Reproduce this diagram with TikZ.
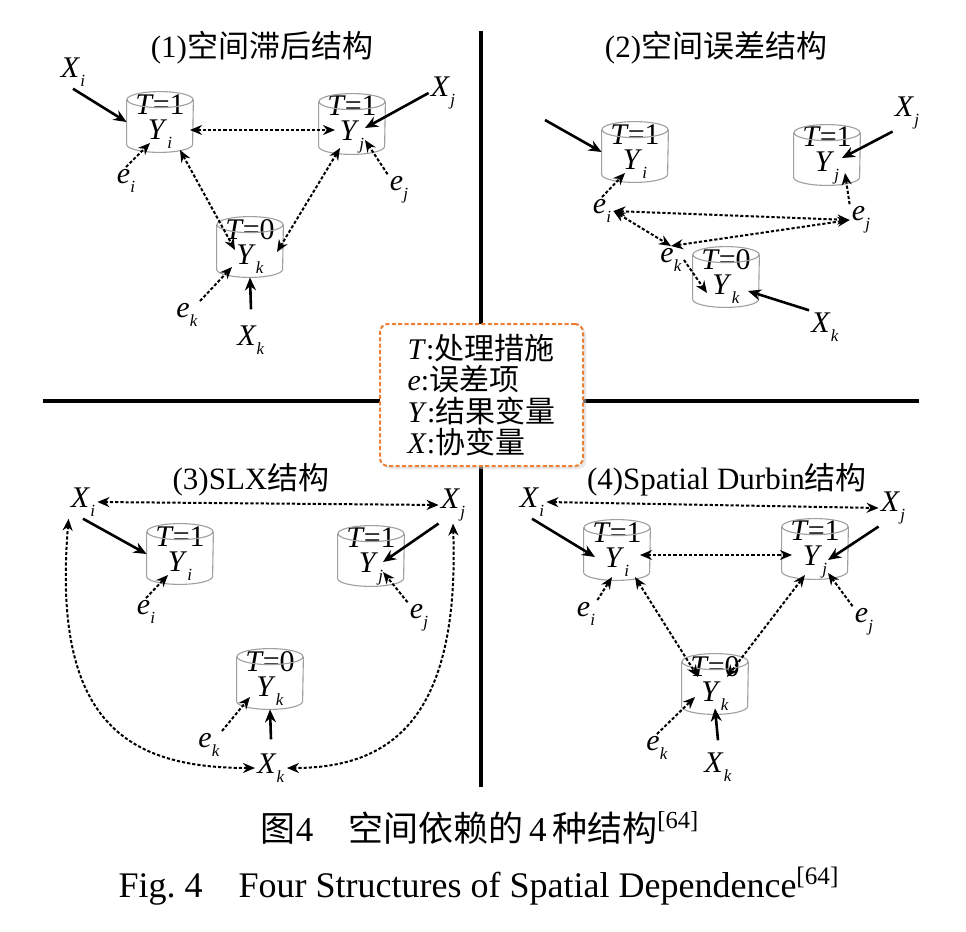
\documentclass[tikz,border=0pt]{standalone}
\usepackage{fontspec}
\setmainfont{Liberation Serif}
\newfontfamily\cjk{Noto Sans CJK SC}
\usetikzlibrary{arrows.meta,shadows}
\definecolor{keyorange}{RGB}{237,125,49}
\newcommand\vsub[2]{\textit{#1}\raisebox{-4.5pt}{\fontsize{8.5}{8.5}\selectfont\textit{#2}}}
\newcommand\tset[1]{\textit{T}\kern-0.5pt=#1}

\begin{document}
\begin{tikzpicture}[
    x=0.5pt, y=0.5pt,
    lbl/.style={inner sep=1pt, font=\fontsize{15}{15}\selectfont},
    cyl/.style={minimum width=33pt, minimum height=30pt, inner sep=0pt, align=center, font=\fontsize{15}{12.5}\selectfont},
    rim/.style={draw=gray!75, line width=0.55pt},
    paneltitle/.style={font=\fontsize{15.5}{15.5}\selectfont},
    solidarr/.style={->, >={Stealth[length=6.5pt, width=5.5pt]}, line width=1.3pt},
    dotarr/.style={->, >={Stealth[length=6pt, width=5pt]}, line width=1pt, dash pattern=on 1.6pt off 1pt},
    dotboth/.style={dotarr, <->},
    divider/.style={line width=1.8pt}
]
\fill[white] (0,0) rectangle (966,-932);
\useasboundingbox (0,0) rectangle (966,-932);

% dividing cross
\draw[divider] (481,-31) -- (481,-787);
\draw[divider] (43,-401) -- (919,-401);

% (1) spatial lag
\node[paneltitle] (t1) at (262,-48) {(1){\cjk 空间滞后结构}};
\node[cyl] (Y1i) at (160,-122) {\tset{1}\\\vsub{Y}{i}};
\node[cyl] (Y1j) at (352,-124) {\tset{1}\\\vsub{Y}{j}};
\node[cyl] (Y1k) at (250,-247) {\tset{0}\\\vsub{Y}{k}};
\node[lbl] (x1i) at (73,-72) {\vsub{X}{i}};
\node[lbl] (x1j) at (443,-93) {\vsub{X}{j}};
\node[lbl] (e1i) at (126,-181) {\vsub{e}{i}};
\node[lbl] (e1j) at (399,-190) {\vsub{e}{j}};
\node[lbl] (e1k) at (187,-315) {\vsub{e}{k}};
\node[lbl] (x1k) at (251,-340) {\vsub{X}{k}};

% (2) spatial error
\node[paneltitle] (t2) at (716,-48) {(2){\cjk 空间误差结构}};
\node[cyl] (Y2i) at (635,-152) {\tset{1}\\\vsub{Y}{i}};
\node[cyl] (Y2j) at (827,-155) {\tset{1}\\\vsub{Y}{j}};
\node[cyl] (Y2k) at (726,-277) {\tset{0}\\\vsub{Y}{k}};
\coordinate (s2i) at (545,-120);
\node[lbl] (x2j) at (907,-113) {\vsub{X}{j}};
\node[lbl] (e2i) at (602,-211) {\vsub{e}{i}};
\node[lbl] (e2j) at (861,-220) {\vsub{e}{j}};
\node[lbl] (e2k) at (671,-260) {\vsub{e}{k}};
\node[lbl] (x2k) at (825,-327) {\vsub{X}{k}};

% (3) SLX
\node[paneltitle] (t3) at (251,-480) {(3)SLX{\cjk 结构}};
\node[cyl] (Y3i) at (180,-554) {\tset{1}\\\vsub{Y}{i}};
\node[cyl] (Y3j) at (371,-556) {\tset{1}\\\vsub{Y}{j}};
\node[cyl] (Y3k) at (270,-679) {\tset{0}\\\vsub{Y}{k}};
\node[lbl] (x3i) at (83,-502) {\vsub{X}{i}};
\node[lbl] (x3j) at (453,-505) {\vsub{X}{j}};
\node[lbl] (e3i) at (146,-612) {\vsub{e}{i}};
\node[lbl] (e3j) at (419,-618) {\vsub{e}{j}};
\node[lbl] (e3k) at (209,-745) {\vsub{e}{k}};
\node[lbl] (x3k) at (271,-768) {\vsub{X}{k}};

% (4) spatial Durbin
\node[paneltitle] (t4) at (727,-480) {(4)Spatial Durbin{\cjk 结构}};
\node[cyl] (Y4i) at (617,-550) {\tset{1}\\\vsub{Y}{i}};
\node[cyl] (Y4j) at (815,-549) {\tset{1}\\\vsub{Y}{j}};
\node[cyl] (Y4k) at (715,-684) {\tset{0}\\\vsub{Y}{k}};
\node[lbl] (x4i) at (532,-502) {\vsub{X}{i}};
\node[lbl] (x4j) at (893,-508) {\vsub{X}{j}};
\node[lbl] (e4i) at (586,-614) {\vsub{e}{i}};
\node[lbl] (e4j) at (864,-622) {\vsub{e}{j}};
\node[lbl] (e4k) at (657,-748) {\vsub{e}{k}};
\node[lbl] (x4k) at (718,-767) {\vsub{X}{k}};

% cylinders
\foreach \cy in {Y1i,Y1j,Y1k,Y2i,Y2j,Y2k,Y3i,Y3j,Y3k,Y4i,Y4j,Y4k} {
  \draw[rim] ([yshift=-4pt]\cy.north) ellipse [x radius=16.5pt, y radius=4pt];
  \draw[rim] ([yshift=-4pt]\cy.north west) -- ([yshift=4pt]\cy.south west)
    arc [start angle=180, end angle=360, x radius=16.5pt, y radius=4pt] -- ([yshift=-4pt]\cy.north east);
}

% connectors (1)
\draw[solidarr] (x1i.south) -- (Y1i.west);
\draw[solidarr] (x1j.west) -- ([shift={(13,-4)}]Y1j.center);
\draw[solidarr] ([yshift=7pt]x1k.north) -- (Y1k.south);
\draw[dotboth] ([shift={(30,-8)}]Y1i.center) -- ([shift={(-17,-6)}]Y1j.center);
\draw[dotboth] ([shift={(20,-28)}]Y1i.center) -- ([shift={(-15,-3)}]Y1k.center);
\draw[dotboth] ([shift={(-12,-24)}]Y1j.center) -- ([shift={(27,-5)}]Y1k.center);
\draw[dotarr] (e1i.north) -- ([shift={(-10,-21)}]Y1i.center);
\draw[dotarr] (e1j.north west) -- ([shift={(13,-16)}]Y1j.center);
\draw[dotarr] (e1k.north east) -- ([shift={(-18,-20)}]Y1k.center);

% connectors (2)
\draw[solidarr] (s2i) -- (Y2i.west);
\draw[solidarr] (x2j.south west) -- ([shift={(15,-3)}]Y2j.center);
\draw[solidarr] (x2k.north west) -- ([shift={(22,-14)}]Y2k.center);
\draw[dotarr] (e2i.north) -- ([shift={(-10,-21)}]Y2i.center);
\draw[dotarr] (e2j.north west) -- ([shift={(18,-18)}]Y2j.center);
\draw[dotarr] (e2k.east) -- ([shift={(-19,-16)}]Y2k.center);
\draw[dotboth] (e2i.east) -- (e2j.west);
\draw[dotboth] (e2i.east) -- (e2k.north);
\draw[dotboth] (e2k.north) -- (e2j.west);

% connectors (3)
\draw[dotboth] (x3i.east) -- (x3j.west);
\draw[solidarr] (x3i.south) -- (Y3i.west);
\draw[solidarr] (x3j.south west) -- ([shift={(12,-6)}]Y3j.center);
\draw[solidarr] ([yshift=6pt]x3k.north) -- (Y3k.south);
\draw[dotarr] (e3i.north) -- ([shift={(-12,-21)}]Y3i.center);
\draw[dotarr] (e3j.north west) -- ([shift={(12,-16)}]Y3j.center);
\draw[dotarr] (e3k.north east) -- ([shift={(-20,-18)}]Y3k.center);
\draw[dotboth] (x3i.south west) .. controls +(-17,-205) and +(-127,0) .. (x3k.west);
\draw[dotboth] (x3j.south) .. controls +(7,-198) and +(102,0) .. (x3k.east);

% connectors (4)
\draw[dotboth] (x4i.east) -- (x4j.west);
\draw[solidarr] (x4i.south) -- ([shift={(-22,-7)}]Y4i.center);
\draw[solidarr] (x4j.south west) -- ([shift={(13,-11)}]Y4j.center);
\draw[solidarr] ([yshift=5pt]x4k.north) -- ([yshift=3pt]Y4k.south);
\draw[dotboth] ([shift={(23,-5)}]Y4i.center) -- ([shift={(-23,-6)}]Y4j.center);
\draw[dotboth] ([shift={(18,-27)}]Y4i.center) -- ([shift={(-17,7)}]Y4k.center);
\draw[dotboth] ([shift={(-10,-26)}]Y4j.center) -- ([shift={(12,7)}]Y4k.center);
\draw[dotarr] (e4i.north east) -- ([shift={(-5,-27)}]Y4i.center);
\draw[dotarr] (e4j.north west) -- ([shift={(13,-24)}]Y4j.center);
\draw[dotarr] (e4k.north) -- ([shift={(-20,-13)}]Y4k.center);

% legend
\node[draw=keyorange, line width=1pt, dash pattern=on 2pt off 1.2pt, rounded corners=4pt,
      fill=white, drop shadow={shadow xshift=1.5pt, shadow yshift=-1.5pt, fill=gray!35},
      minimum width=101.5pt, minimum height=71pt, align=left,
      font=\fontsize{15}{15.75}\selectfont] (key) at (481.5,-395)
  {\textit{T}:{\cjk 处理措施}\\\textit{e}:{\cjk 误差项}\\\textit{Y}:{\cjk 结果变量}\\\textit{X}:{\cjk 协变量}};

% caption
\node[font=\fontsize{17.5}{17.5}\selectfont, anchor=base] (cap1) at (480,-841)
  {{\cjk 图}4\quad{\cjk 空间依赖的}\,4\,{\cjk 种结构}\textsuperscript{[64]}};
\node[font=\fontsize{18}{18}\selectfont, anchor=base] (cap2) at (479,-897)
  {Fig.\ 4\quad Four Structures of Spatial Dependence\textsuperscript{[64]}};
\end{tikzpicture}
\end{document}
